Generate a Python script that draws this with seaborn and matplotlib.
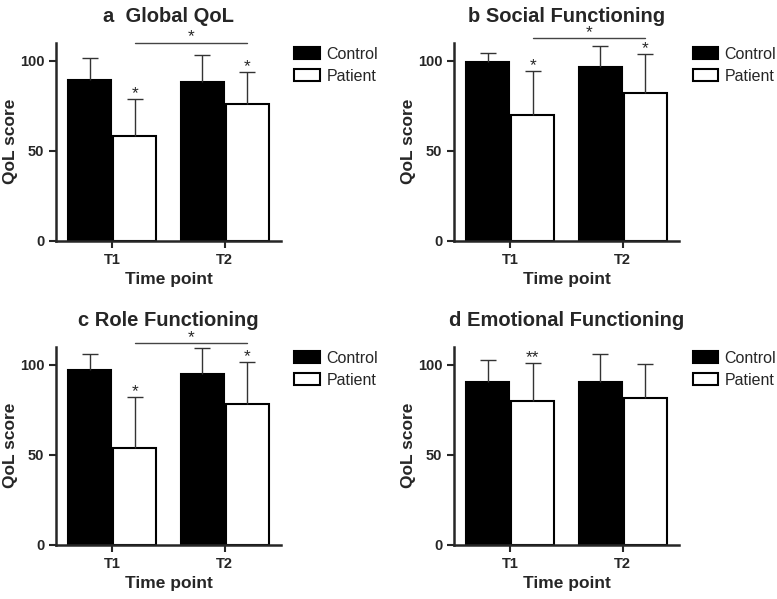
import matplotlib
matplotlib.use("Agg")
import matplotlib.pyplot as plt
import numpy as np
import pandas as pd
import seaborn as sns

# values (mean + upper SD)
time_points = ["T1", "T2"]
groups = ["Control", "Patient"]
panel_titles = ["a  Global QoL", "b Social Functioning", "c Role Functioning", "d Emotional Functioning"]

control_means = [[89.3, 88.0], [99.3, 96.3], [97.0, 94.8], [90.2, 90.2]]
patient_means = [[58.3, 75.7], [70.0, 82.2], [53.7, 77.9], [79.9, 81.4]]
control_sd = [[12.2, 15.0], [5.0, 11.7], [9.2, 14.7], [12.4, 15.7]]
patient_sd = [[20.4, 18.0], [24.4, 21.5], [28.4, 23.4], [20.8, 19.0]]

patient_stars = [["*", "*"], ["*", "*"], ["*", "*"], ["**", ""]]
bracket_stars = ["*", "*", "*", ""]

sns.set_style("ticks")
plt.rcParams["font.family"] = ["Liberation Sans", "DejaVu Sans"]

fig = plt.figure(figsize=(7.77, 5.99), dpi=100)
W, H = 777, 599
boxes = [(56, 42.7), (454, 42.7), (56, 346.7), (454, 346.7)]
bracket_y = [110, 112.4, 111.8, None]

for i in range(4):
    x0, y0 = boxes[i]
    ax = fig.add_axes([x0 / W, 1 - (y0 + 198) / H, 225 / W, 198 / H])
    rows = []
    for j, t in enumerate(time_points):
        rows.append({"time": t, "group": "Control", "score": control_means[i][j], "sd": control_sd[i][j]})
        rows.append({"time": t, "group": "Patient", "score": patient_means[i][j], "sd": patient_sd[i][j]})
    df = pd.DataFrame(rows)

    sns.barplot(data=df, x="time", y="score", hue="group", hue_order=groups,
                palette=["black", "white"], edgecolor="black", linewidth=1.5,
                errorbar=None, gap=0.05, width=0.8, ax=ax)

    # one-sided error bars on top of each bar
    centers = {}
    for g, cont in zip(groups, ax.containers):
        sub = df[df.group == g]
        xs = np.array([p.get_x() + p.get_width() / 2 for p in cont])
        ys = sub.score.values
        sd = sub.sd.values
        eb = ax.errorbar(xs, ys, yerr=[np.zeros_like(sd), sd], fmt="none",
                         ecolor="#333333", elinewidth=1, capsize=6, capthick=1, zorder=1)
        eb[1][0].set_visible(False)  # hide lower cap
        centers[g] = (xs, ys + sd)

    xs, tops = centers["Patient"]
    for j in range(2):
        if patient_stars[i][j]:
            ax.text(xs[j], tops[j] + 0.6, patient_stars[i][j], ha="center", va="baseline", fontsize=12.5)

    if bracket_stars[i]:
        by = bracket_y[i]
        ax.plot([xs[0], xs[1]], [by, by], color="#444444", lw=1, clip_on=False)
        ax.text((xs[0] + xs[1]) / 2, by + 0.6, bracket_stars[i], ha="center", va="baseline", fontsize=12.5)

    ax.set_ylim(0, 110)
    ax.set_xlim(-0.5, 1.5)
    ax.set_yticks([0, 50, 100])
    ax.set_xlabel("Time point", fontsize=12.5, fontweight="bold")
    ax.set_ylabel("QoL score", fontsize=12.5, fontweight="bold", labelpad=1)
    ax.set_title(panel_titles[i], fontsize=14.5, fontweight="bold", pad=15)
    ax.tick_params(labelsize=10.5, width=1.5, length=5)
    for lab in ax.get_xticklabels() + ax.get_yticklabels():
        lab.set_fontweight("bold")
    for s in ["left", "bottom"]:
        ax.spines[s].set_linewidth(1.8)
    sns.despine(ax=ax)

    ax.legend(loc="upper left", bbox_to_anchor=(1.06, 0.98), frameon=False,
              fontsize=11.5, handlelength=1.6, handleheight=0.8,
              labelspacing=0.45, borderaxespad=0, borderpad=0, handletextpad=0.4)

fig.savefig("out.png", dpi=100)
